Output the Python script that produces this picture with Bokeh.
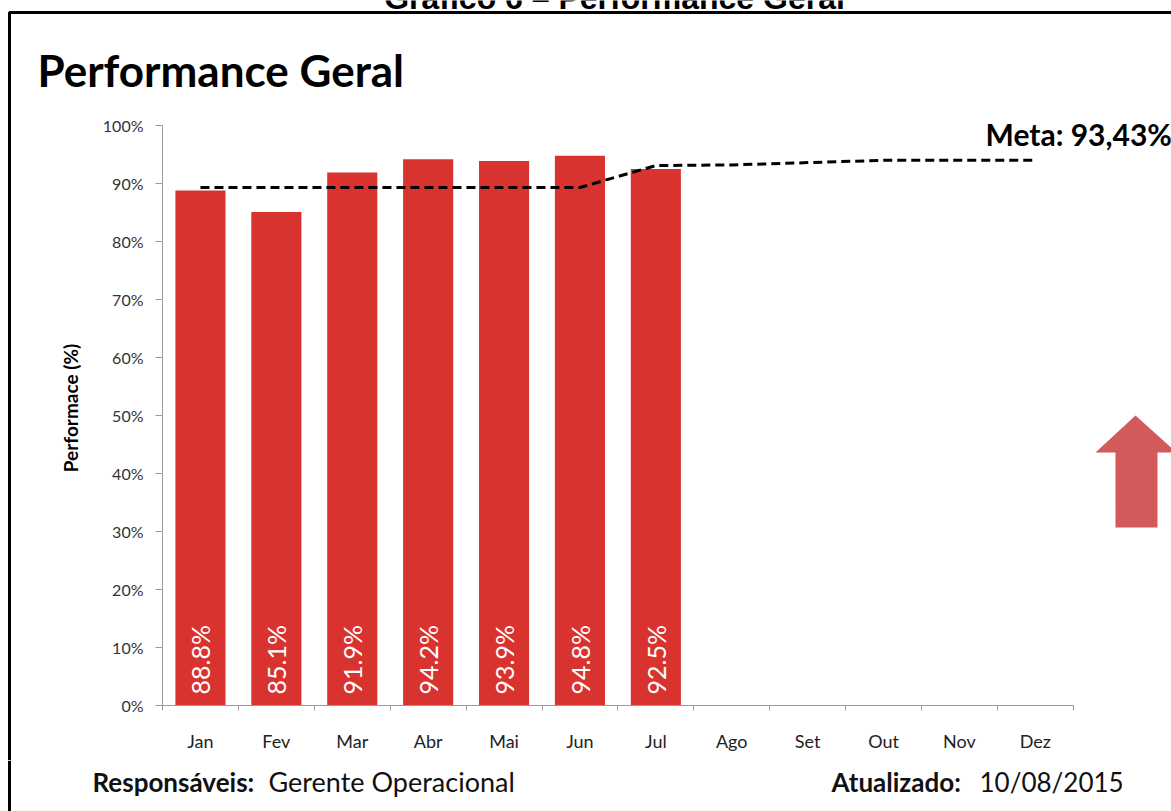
import numpy as np
from bokeh.plotting import figure
from bokeh.layouts import column, row
from bokeh.models import (Range1d, FixedTicker, PrintfTickFormatter, Label,
                          BoxAnnotation, PolyAnnotation, Span, Spacer)
from bokeh.core.properties import value
from bokeh.embed import file_html
from bokeh.resources import INLINE

# ---------------- data ----------------
months = ["Jan", "Fev", "Mar", "Abr", "Mai", "Jun", "Jul", "Ago", "Set", "Out", "Nov", "Dez"]
performance = [88.8, 85.1, 91.9, 94.2, 93.9, 94.8, 92.5]
meta = [89.3, 89.3, 89.3, 89.3, 89.3, 89.3, 93.1, 93.2, 93.6, 94.0, 94.0, 94.0]
y_ticks = [0, 10, 20, 30, 40, 50, 60, 70, 80, 90, 100]
caption = "Gráfico 6 – Performance Geral"
title_text = "Performance Geral"
meta_text = "Meta: 93,43%"
resp_bold, resp_text = "Responsáveis:", "Gerente Operacional"
upd_bold, upd_text = "Atualizado:", "10/08/2015"
y_label = "Performace (%)"

# ---------------- layout (page pixels) ----------------
W, H = 1171, 811
HEADER_H = 110      # header strip height
FOOTER_TOP = 760    # footer strip top
STRIP_W = 12        # left strip carrying the frame line
FL = 162            # chart frame left (x axis start), page px
FB = 705            # chart frame bottom (0%), page px
CAT_PX = 75.9       # px per month
PCT_PX = 5.8        # px per percent
BORDER_X, BORDER_Y = 9, 12

x_start = 0.5
x_end = x_start + (W - FL) / CAT_PX
y_end = (FB - HEADER_H) / PCT_PX


def dx(X):
    return x_start + (X - FL) / CAT_PX


def dy(Y):
    return (FB - Y) / PCT_PX


def bare_fig(w, h, x0, x1, y_bottom, y_top):
    f = figure(width=w, height=h, output_backend="svg", toolbar_location=None,
               x_range=Range1d(x0, x1), y_range=Range1d(y_bottom, y_top),
               x_axis_type=None, y_axis_type=None,
               min_border_left=0, min_border_right=0, min_border_top=0, min_border_bottom=0)
    f.title.visible = False
    f.grid.visible = False
    f.outline_line_color = None
    f.background_fill_color = "white"
    f.border_fill_color = "white"
    return f


def lab(f, text, x, y, size, bold=False, font="Lato", align="left", color="black"):
    f.add_layout(Label(x=x, y=y, text=text, text_font=font,
                       text_font_size=size, text_font_style="bold" if bold else "normal",
                       text_align=align, text_baseline="middle", text_color=color))


# ---------------- header ----------------
hdr = bare_fig(W, HEADER_H, 0, W, HEADER_H, 0)
hdr.add_layout(BoxAnnotation(left=BORDER_X, top=BORDER_Y, right=W + 200, bottom=HEADER_H + 200,
                             fill_color=None, line_color="black", line_alpha=1.0, line_width=3))
lab(hdr, caption, 614, -3, "32px", bold=True, font="Liberation Sans", align="center")
lab(hdr, title_text, 37, 69, "44px", bold=True)

# ---------------- left strip (frame line) ----------------
strip_h = FOOTER_TOP - HEADER_H
strip = Spacer(width=STRIP_W, height=strip_h,
               styles={"background": "linear-gradient(to right, #ffffff 0px, #ffffff 8px, "
                                     "#000000 8px, #000000 11px, #ffffff 11px)"})

# ---------------- chart ----------------
p = figure(width=W - STRIP_W, height=strip_h, output_backend="svg", toolbar_location=None,
           x_range=Range1d(x_start, x_end), y_range=Range1d(0, y_end),
           min_border_left=FL - STRIP_W, min_border_right=0, min_border_top=0,
           min_border_bottom=FOOTER_TOP - FB)
p.title.visible = False
p.grid.visible = False
p.outline_line_color = None
p.background_fill_color = "white"
p.border_fill_color = "white"

x_pos = np.arange(1, len(performance) + 1)
x_all = np.arange(1, len(months) + 1)

p.vbar(x=x_pos, top=performance, bottom=0, width=0.66,
       fill_color="#D93330", line_color=None)

p.text(x=x_pos, y=0, text=[f"{v:.1f}%" for v in performance],
       angle=np.pi / 2, text_align="left", text_baseline="middle",
       text_color="white", text_font=value("Lato"), text_font_size="25px",
       y_offset=-11)

p.line(x=x_all, y=meta, line_color="black", line_width=3, line_dash="9 5")

# x axis
xa = p.xaxis[0]
xa.ticker = FixedTicker(ticks=list(x_all), minor_ticks=list(np.arange(0.5, len(months) + 1, 1.0)))
xa.major_label_overrides = {int(i): m for i, m in zip(x_all, months)}
xa.bounds = (0.5, len(months) + 0.5)
xa.major_tick_out = 0
xa.major_tick_in = 0
xa.minor_tick_out = 5
xa.minor_tick_in = 0
xa.minor_tick_line_color = "#9a9a9a"
xa.axis_line_color = "#9a9a9a"
xa.major_label_standoff = 19
xa.major_label_text_font = "Lato"
xa.major_label_text_font_size = "18px"
xa.major_label_text_color = "#222222"

# y axis
ya = p.yaxis[0]
ya.ticker = FixedTicker(ticks=y_ticks)
ya.formatter = PrintfTickFormatter(format="%d%%")
ya.bounds = (0, 100)
ya.major_tick_out = 7
ya.major_tick_in = 0
ya.minor_tick_out = 0
ya.minor_tick_in = 0
ya.major_tick_line_color = "#9a9a9a"
ya.axis_line_color = "#9a9a9a"
ya.major_label_standoff = 12
ya.major_label_text_font = "Lato"
ya.major_label_text_font_size = "16px"
ya.major_label_text_color = "#333333"
ya.axis_label = y_label
ya.axis_label_text_font = "Lato"
ya.axis_label_text_font_style = "bold"
ya.axis_label_text_font_size = "19px"
ya.axis_label_text_color = "black"
ya.axis_label_standoff = 18

# arrow (decoration)
arrow_px = [(1135, 415), (1176, 452), (1157, 452), (1157, 527),
            (1115, 527), (1115, 452), (1095, 452)]
p.add_layout(PolyAnnotation(xs=[dx(a) for a, b in arrow_px], ys=[dy(b) for a, b in arrow_px],
                            fill_color="#D25A5A", fill_alpha=1.0, line_color=None))

lab(p, meta_text, dx(985), dy(133), "30px", bold=True)

# ---------------- footer ----------------
ftr = bare_fig(W, H - FOOTER_TOP, 0, W, H, FOOTER_TOP)
ftr.add_layout(Span(location=BORDER_X, dimension="height", line_color="black", line_width=3))
lab(ftr, resp_bold, 92, 781, "26px", bold=True, color="#111111")
lab(ftr, resp_text, 268, 781, "27px", color="#111111")
lab(ftr, upd_bold, 831, 781, "26px", bold=True, color="#111111")
lab(ftr, upd_text, 979, 781, "26px", color="#111111")

layout = column(hdr, row(strip, p, spacing=0), ftr, spacing=0)
open("out.html", "w").write(file_html(layout, INLINE))
